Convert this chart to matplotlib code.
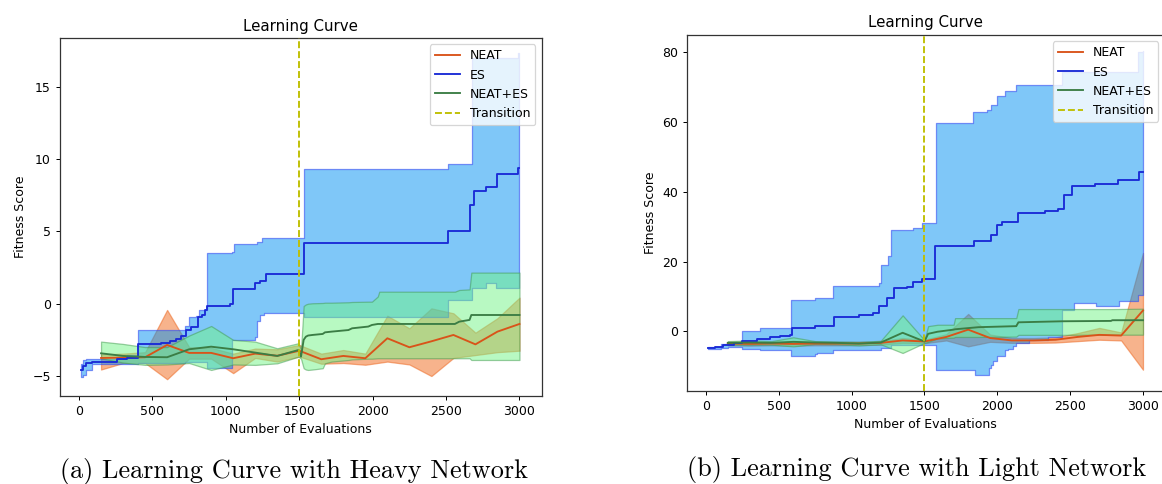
import matplotlib
matplotlib.use("Agg")
import matplotlib.pyplot as plt

# ---------------- data: (a) heavy network ----------------
a_es_x = [15, 30, 50, 90, 260, 330, 405, 560, 620, 660, 695, 730, 760, 810, 835, 860, 875, 1030, 1050,
          1200, 1230, 1275, 1530, 2510, 2665, 2690, 2775, 2850, 2990, 3000]
a_es_mean = [-4.6, -4.3, -4.1, -4.0, -3.85, -3.72, -2.8, -2.7, -2.55, -2.45, -2.25, -1.8, -1.6, -0.95, -0.8,
             -0.4, -0.15, -0.05, 1.0, 1.4, 1.6, 2.05, 4.2, 5.05, 6.8, 7.8, 8.05, 9.0, 9.4, 9.4]
a_es_band_x = [15, 30, 50, 90, 260, 330, 405, 720, 750, 800, 820, 870, 1045, 1055, 1200, 1215, 1235, 1245,
               1260, 1530, 2510, 2675, 2775, 2840, 2990, 3000]
a_es_hi = [-4.2, -3.9, -3.85, -3.8, -3.7, -3.55, -1.8, -1.55, -0.95, -0.85, -0.45, 3.5, 3.6, 4.15, 4.15, 4.3,
           4.3, 4.55, 4.55, 9.3, 9.65, 17.0, 17.0, 17.0, 17.3, 17.3]
a_es_lo = [-5.1, -4.9, -4.6, -4.15, -4.2, -4.2, -4.1, -4.0, -4.0, -4.0, -4.0, -4.45, -2.5, -2.5, -2.3, -1.2,
           -0.8, -0.8, -0.66, -0.89, 0.26, 1.06, 1.41, 1.06, 1.06, 1.06]

a_neat_x = [150, 300, 450, 600, 750, 900, 1050, 1200, 1350, 1500, 1650, 1800, 1950, 2100, 2250, 2400, 2550,
            2700, 2850, 3000]
a_neat_mean = [-3.75, -3.73, -3.7, -2.85, -3.4, -3.4, -3.77, -3.45, -3.6, -3.25, -3.84, -3.61, -3.77, -2.39,
               -3.01, -2.6, -2.16, -2.81, -1.93, -1.40]
a_neat_hi = [-3.5, -3.45, -3.35, -0.43, -3.0, -3.05, -3.45, -3.1, -3.15, -2.85, -3.45, -3.2, -3.45, -0.83,
             -1.7, -0.32, -0.66, -2.0, -1.0, 0.42]
a_neat_lo = [-4.55, -4.1, -4.1, -5.22, -3.8, -3.8, -4.8, -3.75, -4.0, -3.65, -4.15, -4.1, -4.22, -4.0, -4.2,
             -5.0, -3.75, -3.55, -3.35, -3.25]

a_ne_x = [150, 300, 450, 600, 750, 900, 1050, 1200, 1350, 1495, 1512, 1530, 1545, 1560, 1590, 1660, 1675,
          1720, 1835, 1860, 1970, 1995, 2035, 2045, 2500, 2560, 2590, 2660, 2672, 3000]
a_ne_mean = [-3.43, -3.61, -3.68, -3.7, -3.15, -2.97, -3.15, -3.38, -3.61, -3.2, -3.66, -2.5, -2.28, -2.2,
             -2.16, -2.09, -1.98, -1.93, -1.82, -1.7, -1.58, -1.47, -1.40, -1.40, -1.40, -1.40, -1.24, -1.12,
             -0.78, -0.78]
a_ne_hi = [-2.62, -2.78, -3.0, -3.0, -2.2, -1.54, -2.5, -2.62, -3.08, -2.73, -3.2, -0.16, -0.05, 0.0, 0.03,
           0.05, 0.07, 0.07, 0.1, 0.12, 0.14, 0.14, 0.5, 0.83, 0.83, 0.83, 0.95, 0.99, 2.15, 2.15]
a_ne_lo = [-3.77, -4.07, -4.23, -4.2, -4.1, -4.58, -4.2, -4.23, -4.12, -3.66, -3.8, -4.46, -4.55, -4.58,
           -4.55, -4.46, -4.12, -4.0, -3.89, -3.85, -3.8, -3.8, -3.77, -3.77, -3.77, -3.77, -3.77, -3.77,
           -3.89, -3.89]

# ---------------- data: (b) light network ----------------
b_es_x = [15, 60, 120, 190, 250, 350, 440, 510, 580, 590, 750, 880, 1050, 1150, 1190, 1240, 1290, 1380, 1420,
          1480, 1575, 1840, 1955, 1995, 2030, 2140, 2330, 2420, 2455, 2510, 2670, 2830, 2970, 3000]
b_es_mean = [-4.8, -4.4, -3.8, -3.3, -2.9, -2.2, -1.6, -1.4, -0.95, 1.0, 1.6, 4.0, 4.6, 5.3, 7.3, 9.6, 12.4,
             12.8, 14.3, 15.0, 24.4, 25.8, 27.7, 30.6, 31.5, 33.9, 34.4, 35.0, 39.0, 41.7, 42.4, 43.5, 45.6,
             45.6]
b_es_band_x = [15, 100, 150, 250, 370, 585, 750, 765, 875, 1190, 1200, 1250, 1270, 1420, 1480, 1580, 1830,
               1845, 1930, 1945, 1960, 1970, 1995, 2000, 2050, 2070, 2110, 2130, 2215, 2350, 2445, 2525,
               2680, 2835, 2965, 3000]
b_es_hi = [-4.4, -3.5, -3.2, 0.0, 0.9, 9.1, 9.6, 9.6, 13.0, 13.8, 19.1, 21.5, 29.1, 29.6, 31.0, 59.7, 62.8,
           62.8, 63.5, 63.5, 65.0, 65.0, 67.3, 67.5, 68.8, 68.8, 68.8, 70.7, 70.7, 70.7, 74.5, 74.5, 74.5,
           74.5, 80.2, 80.5]
b_es_lo = [-5.0, -4.8, -4.6, -5.0, -5.25, -7.2, -6.6, -6.2, -5.2, -5.2, -4.8, -4.8, -3.8, -3.8, -3.8, -11.0,
           -11.0, -12.4, -12.4, -10.5, -9.5, -8.5, -8.1, -7.0, -5.2, -5.0, -4.3, -3.3, -2.4, -1.6, 6.2, 8.1,
           7.4, 8.8, 10.5, 10.5]

b_neat_x = [150, 300, 450, 600, 750, 900, 1050, 1200, 1350, 1500, 1650, 1800, 1950, 2100, 2250, 2400, 2550,
            2700, 2850, 3000]
b_neat_mean = [-3.5, -3.6, -3.5, -3.6, -3.5, -3.5, -3.5, -3.3, -2.6, -2.9, -1.6, 0.5, -1.9, -2.6, -2.6, -2.4,
               -1.6, -1.0, -1.2, 6.0]
b_neat_hi = [-3.0, -3.1, -3.0, -3.1, -3.0, -3.0, -3.0, -2.8, -1.9, -2.4, -0.8, 5.0, -0.9, -1.9, -1.9, -1.7,
             -0.5, 1.0, -0.3, 22.5]
b_neat_lo = [-4.0, -4.1, -4.0, -4.1, -4.0, -4.0, -4.0, -3.8, -3.3, -3.4, -2.6, -4.3, -3.0, -3.3, -3.3, -3.2,
             -2.8, -2.4, -2.6, -11.0]

b_ne_x = [150, 300, 450, 600, 750, 900, 1050, 1200, 1350, 1500, 1525, 1590, 1700, 1710, 1870, 2130, 2145,
          2450, 2780, 2790, 3000]
b_ne_mean = [-3.3, -3.2, -3.3, -3.0, -3.2, -3.3, -3.5, -3.2, -0.4, -2.9, -0.7, -0.1, 0.5, 0.6, 1.2, 1.5, 2.6,
             2.9, 3.0, 3.2, 3.2]
b_ne_hi = [-2.8, -2.6, -2.8, -1.7, -2.8, -2.9, -3.0, -2.7, 4.6, -2.5, 1.5, 1.9, 1.9, 3.8, 3.8, 3.8, 6.4, 6.4,
           6.4, 6.4, 6.5]
b_ne_lo = [-3.8, -3.8, -3.8, -4.3, -3.6, -3.7, -4.0, -3.7, -6.2, -3.3, -3.0, -2.0, -1.8, -1.6, -1.6, -1.5,
           -1.0, -1.0, -0.95, -0.95, -0.95]

transition_x = 1500
series_labels = ["NEAT", "ES", "NEAT+ES", "Transition"]
captions = ["(a) Learning Curve with Heavy Network", "(b) Learning Curve with Light Network"]

# ---------------- styles ----------------
NEAT_LINE = "#d95319"
ES_LINE = "#1a2bd6"
NE_LINE = "#3b7d45"
NEAT_FACE = (0.945, 0.41, 0.10, 0.5)
NEAT_EDGE = (0.93, 0.42, 0.15, 0.55)
ES_FACE = (0.0, 0.57, 0.95, 0.5)
ES_EDGE = (0.2, 0.3, 0.95, 0.6)
NE_FACE = (0.45, 0.96, 0.53, 0.5)
NE_EDGE = (0.25, 0.6, 0.3, 0.5)

DPI = 90
fig = plt.figure(figsize=(1162 / DPI, 484 / DPI), dpi=DPI)


def panel(rect, es, neat, ne, xlim, ylim, yticks):
    ax = fig.add_axes(rect)
    es_x, es_m, es_bx, es_lo, es_hi = es
    n_x, n_m, n_lo, n_hi = neat
    c_x, c_m, c_lo, c_hi = ne
    ax.fill_between(n_x, n_lo, n_hi, facecolor=NEAT_FACE, edgecolor=NEAT_EDGE, linewidth=1, zorder=1)
    ax.fill_between(es_bx, es_lo, es_hi, step="post", facecolor=ES_FACE, edgecolor=ES_EDGE,
                    linewidth=1, zorder=2)
    ax.fill_between(c_x, c_lo, c_hi, facecolor=NE_FACE, edgecolor=NE_EDGE, linewidth=1, zorder=3)
    ax.plot(n_x, n_m, color=NEAT_LINE, lw=1.5, label=series_labels[0], zorder=4)
    ax.plot(es_x, es_m, color=ES_LINE, lw=1.5, drawstyle="steps-post", label=series_labels[1], zorder=4)
    ax.plot(c_x, c_m, color=NE_LINE, lw=1.5, label=series_labels[2], zorder=4)
    ax.axvline(transition_x, color="y", ls="--", lw=1.5, label=series_labels[3], zorder=5)
    ax.set_xlim(*xlim)
    ax.set_ylim(*ylim)
    ax.set_xticks([0, 500, 1000, 1500, 2000, 2500, 3000])
    ax.set_yticks(yticks)
    for s in ax.spines.values():
        s.set_color("#333333")
        s.set_linewidth(1.0)
    ax.set_title("Learning Curve")
    ax.set_xlabel("Number of Evaluations")
    ax.set_ylabel("Fitness Score")
    ax.legend(loc="upper right")
    return ax


panel([59.5 / 1162, 1 - 396 / 484, 482 / 1162, 358 / 484],
      (a_es_x, a_es_mean, a_es_band_x, a_es_lo, a_es_hi),
      (a_neat_x, a_neat_mean, a_neat_lo, a_neat_hi),
      (a_ne_x, a_ne_mean, a_ne_lo, a_ne_hi),
      (-133, 3150), (-6.38, 18.37), [-5, 0, 5, 10, 15])

panel([687 / 1162, 1 - 391 / 484, 477.7 / 1162, 356 / 484],
      (b_es_x, b_es_mean, b_es_band_x, b_es_lo, b_es_hi),
      (b_neat_x, b_neat_mean, b_neat_lo, b_neat_hi),
      (b_ne_x, b_ne_mean, b_ne_lo, b_ne_hi),
      (-130, 3149), (-17.1, 85.0), [0, 20, 40, 60, 80])

fig.text(293.5 / 1162, 6 / 484, captions[0], family="cmr10", fontsize=21, ha="center", va="baseline")
fig.text(916.5 / 1162, 8 / 484, captions[1], family="cmr10", fontsize=21, ha="center", va="baseline")

fig.savefig("out.png", dpi=DPI)
